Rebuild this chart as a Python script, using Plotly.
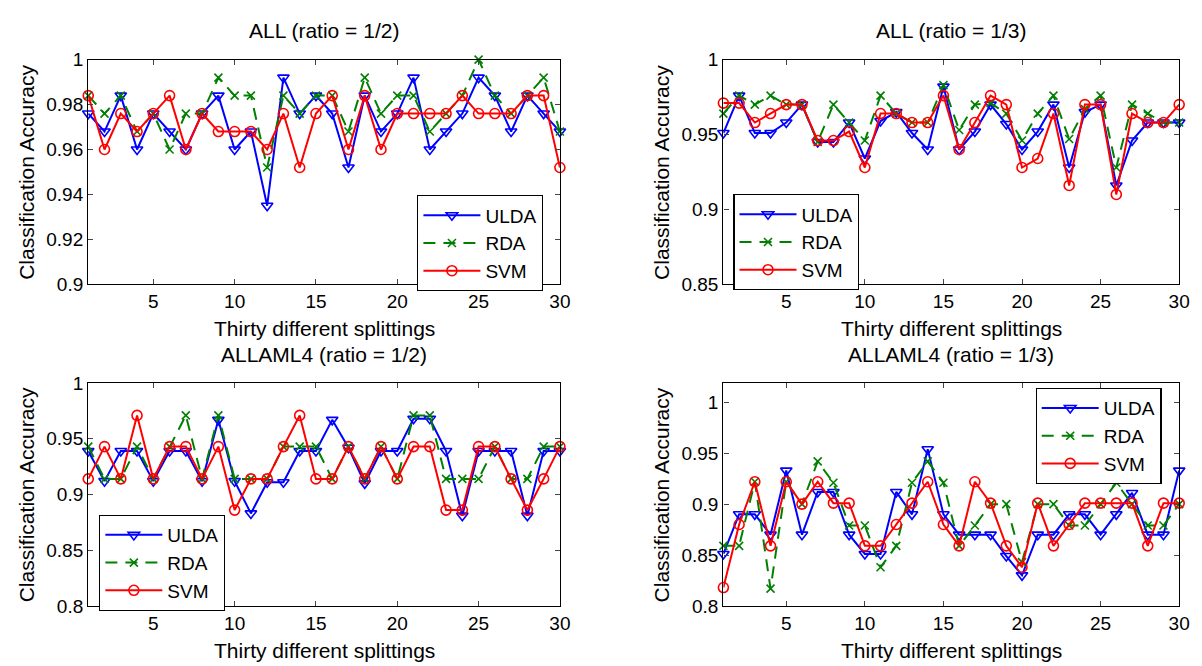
import plotly.graph_objects as go

# ---------------- data ----------------
splits = list(range(1, 31))

method_names = ["ULDA", "RDA", "SVM"]

# ALL (ratio = 1/2)
ulda_all_half = [0.976, 0.968, 0.984, 0.960, 0.976, 0.968, 0.960, 0.976, 0.984, 0.960,
                 0.968, 0.935, 0.992, 0.976, 0.984, 0.976, 0.952, 0.984, 0.968, 0.976,
                 0.992, 0.960, 0.968, 0.976, 0.992, 0.984, 0.968, 0.984, 0.976, 0.968]
rda_all_half = [0.984, 0.976, 0.984, 0.968, 0.976, 0.960, 0.976, 0.976, 0.992, 0.984,
                0.984, 0.952, 0.984, 0.976, 0.984, 0.984, 0.968, 0.992, 0.976, 0.984,
                0.984, 0.968, 0.976, 0.984, 1.000, 0.984, 0.976, 0.984, 0.992, 0.968]
svm_all_half = [0.984, 0.960, 0.976, 0.968, 0.976, 0.984, 0.960, 0.976, 0.968, 0.968,
                0.968, 0.960, 0.976, 0.952, 0.976, 0.984, 0.960, 0.984, 0.960, 0.976,
                0.976, 0.976, 0.976, 0.984, 0.976, 0.976, 0.976, 0.984, 0.984, 0.952]

# ALL (ratio = 1/3)
ulda_all_third = [0.951, 0.976, 0.951, 0.951, 0.958, 0.970, 0.945, 0.945, 0.958, 0.934,
                  0.959, 0.965, 0.951, 0.940, 0.982, 0.940, 0.952, 0.970, 0.957, 0.940,
                  0.952, 0.970, 0.928, 0.965, 0.970, 0.916, 0.946, 0.958, 0.958, 0.958]
rda_all_third = [0.964, 0.976, 0.970, 0.976, 0.970, 0.970, 0.945, 0.970, 0.958, 0.946,
                 0.976, 0.964, 0.958, 0.958, 0.983, 0.953, 0.970, 0.971, 0.964, 0.946,
                 0.964, 0.976, 0.947, 0.967, 0.976, 0.928, 0.970, 0.964, 0.958, 0.958]
svm_all_third = [0.971, 0.971, 0.958, 0.964, 0.970, 0.970, 0.946, 0.946, 0.952, 0.928,
                 0.964, 0.964, 0.958, 0.958, 0.976, 0.940, 0.958, 0.976, 0.970, 0.928,
                 0.934, 0.964, 0.916, 0.970, 0.970, 0.910, 0.964, 0.958, 0.958, 0.970]

# ALLAML4 (ratio = 1/2)
ulda_aml_half = [0.939, 0.912, 0.939, 0.939, 0.912, 0.939, 0.939, 0.912, 0.967, 0.912,
                 0.883, 0.911, 0.911, 0.939, 0.939, 0.967, 0.942, 0.910, 0.939, 0.939,
                 0.968, 0.968, 0.939, 0.881, 0.939, 0.939, 0.939, 0.881, 0.939, 0.939]
rda_aml_half = [0.943, 0.914, 0.914, 0.943, 0.914, 0.943, 0.971, 0.914, 0.971, 0.914,
                0.914, 0.914, 0.943, 0.943, 0.943, 0.914, 0.943, 0.914, 0.943, 0.914,
                0.971, 0.971, 0.914, 0.914, 0.914, 0.943, 0.914, 0.914, 0.943, 0.943]
svm_aml_half = [0.914, 0.943, 0.914, 0.971, 0.914, 0.943, 0.943, 0.914, 0.943, 0.886,
                0.914, 0.914, 0.943, 0.971, 0.914, 0.914, 0.943, 0.914, 0.943, 0.914,
                0.943, 0.943, 0.886, 0.886, 0.943, 0.943, 0.914, 0.886, 0.914, 0.943]

# ALLAML4 (ratio = 1/3)
ulda_aml_third = [0.851, 0.890, 0.890, 0.870, 0.933, 0.870, 0.912, 0.912, 0.870, 0.851,
                  0.851, 0.912, 0.890, 0.954, 0.890, 0.870, 0.870, 0.870, 0.849, 0.830,
                  0.870, 0.870, 0.890, 0.890, 0.870, 0.890, 0.911, 0.870, 0.870, 0.933]
rda_aml_third = [0.859, 0.859, 0.922, 0.817, 0.922, 0.900, 0.942, 0.921, 0.879, 0.879,
                 0.838, 0.859, 0.921, 0.942, 0.921, 0.859, 0.879, 0.900, 0.900, 0.843,
                 0.900, 0.900, 0.879, 0.879, 0.900, 0.921, 0.900, 0.879, 0.879, 0.900]
svm_aml_third = [0.818, 0.880, 0.922, 0.859, 0.922, 0.900, 0.922, 0.901, 0.901, 0.859,
                 0.859, 0.880, 0.901, 0.922, 0.880, 0.859, 0.922, 0.901, 0.859, 0.838,
                 0.901, 0.859, 0.880, 0.901, 0.901, 0.901, 0.901, 0.859, 0.901, 0.901]

panel_titles = ["ALL (ratio = 1/2)", "ALL (ratio = 1/3)",
                "ALLAML4 (ratio = 1/2)", "ALLAML4 (ratio = 1/3)"]
x_title = "Thirty different splittings"
y_title = "Classification Accuracy"

x_tickvals = [5, 10, 15, 20, 25, 30]
x_ticktext = ["5", "10", "15", "20", "25", "30"]

y_tickvals_all_half = [0.9, 0.92, 0.94, 0.96, 0.98, 1.0]
y_ticktext_all_half = ["0.9", "0.92", "0.94", "0.96", "0.98", "1"]
y_tickvals_all_third = [0.85, 0.9, 0.95, 1.0]
y_ticktext_all_third = ["0.85", "0.9", "0.95", "1"]
y_tickvals_aml = [0.8, 0.85, 0.9, 0.95, 1.0]
y_ticktext_aml = ["0.8", "0.85", "0.9", "0.95", "1"]

# ---------------- layout helpers ----------------
W, H = 1202, 666
FONT = "Liberation Sans, Arial, Helvetica, sans-serif"
FS = 19      # ticks / legend
FS_T = 21    # titles / axis labels


def px_x(p):
    return p / W


def px_y(p):
    return 1 - p / H


panels = [
    dict(series=[ulda_all_half, rda_all_half, svm_all_half],
         xdom=[px_x(81), px_x(557)], ydom=[px_y(275), px_y(43)],
         yrange=[0.9, 1.0], ytv=y_tickvals_all_half, ytt=y_ticktext_all_half,
         legend_pos=(413, 183)),
    dict(series=[ulda_all_third, rda_all_third, svm_all_third],
         xdom=[px_x(722), px_x(1182)], ydom=[px_y(275), px_y(43)],
         yrange=[0.85, 1.0], ytv=y_tickvals_all_third, ytt=y_ticktext_all_third,
         legend_pos=(732, 182)),
    dict(series=[ulda_aml_half, rda_aml_half, svm_aml_half],
         xdom=[px_x(81), px_x(557)], ydom=[px_y(607), px_y(377)],
         yrange=[0.8, 1.0], ytv=y_tickvals_aml, ytt=y_ticktext_aml,
         legend_pos=(92, 513)),
    dict(series=[ulda_aml_third, rda_aml_third, svm_aml_third],
         xdom=[px_x(722), px_x(1182)], ydom=[px_y(607), px_y(377)],
         yrange=[0.8, 1.019], ytv=y_tickvals_aml, ytt=y_ticktext_aml,
         legend_pos=(1037, 382)),
]

styles = [
    dict(color="#0000FF", dash="solid", symbol="triangle-down-open", size=10),
    dict(color="#008000", dash="12px,8px", symbol="x-thin-open", size=8),
    dict(color="#FF0000", dash="solid", symbol="circle-open", size=10),
]

fig = go.Figure()
layout = dict(
    width=W, height=H,
    margin=dict(l=0, r=0, t=0, b=0),
    paper_bgcolor="white", plot_bgcolor="white",
    font=dict(family=FONT, size=FS, color="black"),
    annotations=[],
)

for i, p in enumerate(panels):
    n = i + 1
    xa = "x" if n == 1 else f"x{n}"
    ya = "y" if n == 1 else f"y{n}"
    lg = "legend" if n == 1 else f"legend{n}"
    for name, vals, st in zip(method_names, p["series"], styles):
        fig.add_trace(go.Scatter(
            x=splits, y=vals, name=name, mode="lines+markers",
            xaxis=xa, yaxis=ya, legend=lg, showlegend=True,
            line=dict(color=st["color"], width=2, dash=st["dash"]),
            marker=dict(symbol=st["symbol"], size=st["size"], color=st["color"],
                        line=dict(color=st["color"], width=1.6)),
            cliponaxis=False,
        ))
    axis_common = dict(showline=True, linecolor="black", linewidth=1.4,
                       mirror="ticks", ticks="inside", ticklen=5,
                       tickcolor="#444", tickwidth=1, showgrid=False,
                       zeroline=False, tickfont=dict(family=FONT, size=FS))
    layout["xaxis" if n == 1 else f"xaxis{n}"] = dict(
        domain=p["xdom"], range=[1, 30], anchor=ya,
        tickvals=x_tickvals, ticktext=x_ticktext, **axis_common)
    layout["yaxis" if n == 1 else f"yaxis{n}"] = dict(
        domain=p["ydom"], range=p["yrange"], anchor=xa,
        tickvals=p["ytv"], ticktext=p["ytt"], **axis_common)
    lx, ly = p["legend_pos"]
    layout[lg] = dict(
        x=px_x(lx), y=px_y(ly), xanchor="left", yanchor="top",
        xref="paper", yref="paper",
        bgcolor="white", bordercolor="black", borderwidth=1.2,
        font=dict(family=FONT, size=FS), itemwidth=57,
        tracegroupgap=0, traceorder="normal",
    )
    # panel title
    xc = (p["xdom"][0] + p["xdom"][1]) / 2
    top_px = (1 - p["ydom"][1]) * H
    bot_px = (1 - p["ydom"][0]) * H
    layout["annotations"].append(dict(
        text=panel_titles[i], x=xc, y=px_y(top_px - 30), xref="paper", yref="paper",
        xanchor="center", yanchor="middle", showarrow=False,
        font=dict(family=FONT, size=FS_T)))
    layout["annotations"].append(dict(
        text=x_title, x=xc, y=px_y(bot_px + 46), xref="paper", yref="paper",
        xanchor="center", yanchor="middle", showarrow=False,
        font=dict(family=FONT, size=FS_T)))
    left_px = p["xdom"][0] * W
    yc = (p["ydom"][0] + p["ydom"][1]) / 2
    layout["annotations"].append(dict(
        text=y_title, x=px_x(left_px - 62), y=yc, xref="paper", yref="paper",
        xanchor="center", yanchor="middle", showarrow=False, textangle=-90,
        font=dict(family=FONT, size=FS_T)))

fig.update_layout(**layout)
fig.write_html("out.html")
